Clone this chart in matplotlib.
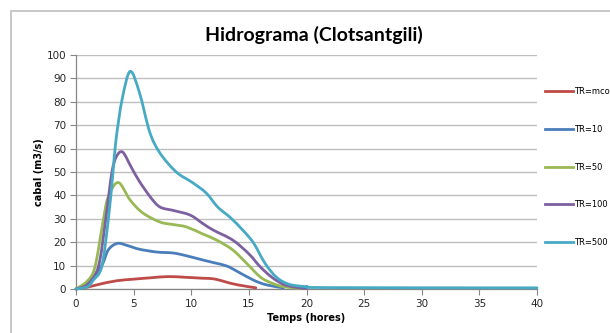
import numpy as np
import matplotlib
matplotlib.use("Agg")
import matplotlib.pyplot as plt
from matplotlib.path import Path
from matplotlib.patches import PathPatch, Rectangle
from matplotlib.lines import Line2D

# Hidrogrames de cabal (m3/s) per a cada periode de retorn
t_mco = [0, 1, 2, 3.5, 5, 6.5, 8, 9.5, 11, 12, 13, 14, 15.6]
q_mco = [0, 0.8, 2, 3.5, 4.2, 4.8, 5.3, 5.0, 4.6, 4.3, 3.0, 1.8, 0.5]

t_10 = [0, 1, 2.23, 2.8, 3.6, 4.5, 5.5, 7, 8.4, 9.5, 11, 12, 13.1, 14, 15.4, 16.5, 18]
q_10 = [0, 2, 10, 16.7, 19.5, 18.5, 17, 15.8, 15.4, 14.3, 12.4, 11.2, 9.8, 7.5, 3.8, 1.8, 0.5]

t_50 = [0, 1, 1.65, 2.37, 2.8, 3.67, 4.7, 5.8, 7.3, 8.5, 9.6, 11, 12.2, 13.6, 14.8, 16, 17, 18, 19.4]
q_50 = [0, 3.5, 9.5, 29.5, 39.4, 45.5, 38, 32.5, 28.6, 27.5, 26.5, 23.5, 20.9, 16.7, 11, 5.1, 2.5, 1, 0.3]

t_100 = [0, 1, 1.94, 2.57, 3.1, 3.5, 4.05, 4.8, 5.5, 6.5, 7.3, 8.5, 9.9, 11, 11.9, 13.6, 15, 16, 17, 18, 19, 20]
q_100 = [0, 2, 9.5, 29.5, 49.4, 56.5, 58.5, 52, 46, 39, 35, 33.5, 31.6, 28, 25.2, 20.9, 15, 9.4, 5, 2, 0.8, 0.3]

t_500 = [0, 1, 1.5, 2.23, 2.8, 3.2, 3.47, 4, 4.7, 5.5, 6.4, 7.3, 8.7, 10.1, 11.3, 12.3, 13.4, 14.5, 15.4, 16.4, 17.4, 18.5, 20, 22, 40]
q_500 = [0, 1, 3.8, 9.5, 29.5, 49.4, 63.7, 81, 93, 84, 67, 58, 50, 45.5, 41, 35, 30.5, 25, 19.7, 11, 5, 2, 1, 0.6, 0.5]

etiquetes = ["TR=mco", "TR=10", "TR=50", "TR=100", "TR=500"]
colors = ["#BE4B48", "#4A7EBB", "#98B954", "#7D60A0", "#46AAC5"]
series = [(t_mco, q_mco), (t_10, q_10), (t_50, q_50), (t_100, q_100), (t_500, q_500)]


def corba_suau(x, y):
    # linia suavitzada amb corbes de Bezier entre punts consecutius
    p = np.column_stack([x, y]).astype(float)
    n = len(p)
    verts = [p[0]]
    codes = [Path.MOVETO]
    for i in range(n - 1):
        p0 = p[i - 1] if i > 0 else p[i]
        p3 = p[i + 2] if i + 2 < n else p[i + 1]
        c1 = p[i] + (p[i + 1] - p0) / 6.0
        c2 = p[i + 1] - (p3 - p[i]) / 6.0
        verts += [c1, c2, p[i + 1]]
        codes += [Path.CURVE4] * 3
    return Path(verts, codes)


fig = plt.figure(figsize=(6.1, 3.33), dpi=100)
fig.patch.set_facecolor("white")
fig.patches.append(Rectangle((11 / 610, -0.1), 1.2, 1 - 11 / 333 + 0.1,
                             transform=fig.transFigure, fill=False,
                             edgecolor="#BFBFBF", linewidth=1.2))

ax = fig.add_axes([76 / 610, 44 / 333, 461 / 610, 234 / 333])
for (x, y), c in zip(series, colors):
    ax.add_patch(PathPatch(corba_suau(x, y), facecolor="none", edgecolor=c,
                           linewidth=2.0, capstyle="round", joinstyle="round",
                           zorder=3, clip_on=False))

ax.set_xlim(0, 40)
ax.set_ylim(0, 100)
ax.set_xticks(np.arange(0, 41, 5))
ax.set_yticks(np.arange(0, 101, 10))
ax.yaxis.grid(True, color="#BEBEBE", linewidth=1.0)
ax.set_axisbelow(True)
for s in ["top", "right"]:
    ax.spines[s].set_visible(False)
for s in ["left", "bottom"]:
    ax.spines[s].set_color("#868686")
    ax.spines[s].set_linewidth(0.9)
ax.tick_params(axis="both", direction="out", length=4, width=0.8,
               color="#868686", labelsize=7.5, labelcolor="#262626", pad=3)

ax.set_xlabel("Temps (hores)", fontsize=7, fontweight="bold", labelpad=3)
ax.set_ylabel("cabal (m3/s)", fontsize=7, fontweight="bold", labelpad=2)

fig.text(314 / 610, 1 - 35 / 333, "Hidrograma (Clotsantgili)", ha="center",
         va="center", fontsize=14, fontweight="bold", family="Lato")

handles = [Line2D([], [], color=c, linewidth=2.0) for c in colors]
fig.legend(handles, etiquetes, loc="upper left",
           bbox_to_anchor=(545 / 610, 1 - 87 / 333), frameon=False,
           fontsize=6, handlelength=3.4, handletextpad=0.1,
           labelspacing=3.45, borderpad=0, borderaxespad=0)

fig.savefig("out.png", dpi=100)
